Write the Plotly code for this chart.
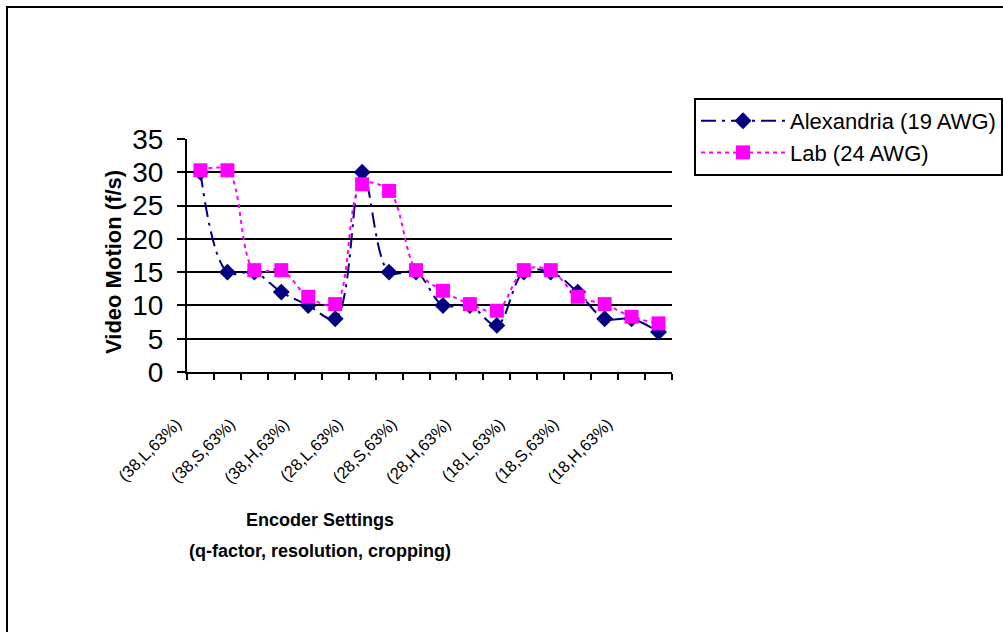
import plotly.graph_objects as go

# Encoder settings (every other setting is labelled on the axis)
tick_labels = ["(38,L,63%)", "(38,S,63%)", "(38,H,63%)",
               "(28,L,63%)", "(28,S,63%)", "(28,H,63%)",
               "(18,L,63%)", "(18,S,63%)", "(18,H,63%)"]
setting_index = list(range(18))
tick_positions = setting_index[::2]

# Video motion in frames per second
alexandria = [30, 15, 15, 12, 10, 8, 30, 15, 15, 10, 10, 7, 15, 15, 12, 8, 8, 6]
lab = [30.3, 30.3, 15.3, 15.3, 11.3, 10.2, 28.2, 27.2, 15.3,
       12.2, 10.2, 9.2, 15.3, 15.3, 11.3, 10.2, 8.3, 7.3]

y_ticks = [0, 5, 10, 15, 20, 25, 30, 35]

FONT = "Liberation Sans, Arial, sans-serif"
W, H = 1003, 632
L, R, T, B = 187, 672, 139, 372
pw, ph = R - L, B - T


def px(x):
    return (x - L) / pw


def py(y):
    return (B - y) / ph


fig = go.Figure()
fig.add_trace(go.Scatter(
    x=setting_index, y=alexandria, name="Alexandria (19 AWG)",
    mode="lines+markers", legendgroup="a",
    line=dict(color="#000080", width=2, dash="longdashdot", shape="spline", smoothing=1),
    marker=dict(symbol="diamond", size=13, color="#000080"),
))
fig.add_trace(go.Scatter(
    x=setting_index, y=lab, name="Lab (24 AWG)",
    mode="lines+markers", legendgroup="b",
    line=dict(color="#FF00FF", width=2, dash="4px,4px", shape="spline", smoothing=1),
    marker=dict(symbol="square", size=14, color="#FF00FF"),
))

fig.update_layout(
    width=W, height=H,
    margin=dict(l=L, r=W - R, t=T, b=H - B, pad=0, autoexpand=False),
    paper_bgcolor="white", plot_bgcolor="white",
    font=dict(family=FONT, color="black"),
    showlegend=True,
    legend=dict(
        x=px(694), y=py(98), xanchor="left", yanchor="top",
        bordercolor="black", borderwidth=2, bgcolor="white",
        font=dict(size=22, family=FONT, color="black"),
        itemwidth=84, tracegroupgap=0,
    ),
    xaxis=dict(
        range=[-0.5, 17.5], showgrid=False, zeroline=False,
        showline=True, linecolor="black", linewidth=2,
        tickmode="array", tickvals=tick_positions, ticktext=tick_labels,
        ticks="", tickangle=-45,
        tickfont=dict(size=16.5, family=FONT, color="black"),
        ticklabelshift=-24, ticklabelstandoff=34,
        minor=dict(tickmode="array", tickvals=[i - 0.5 for i in range(19)],
                   ticks="outside", ticklen=6, tickwidth=2, tickcolor="black",
                   showgrid=False),
    ),
    yaxis=dict(
        range=[0, 35], tickmode="array", tickvals=y_ticks,
        showgrid=True, gridcolor="black", gridwidth=2, zeroline=False,
        showline=True, linecolor="black", linewidth=2,
        ticks="outside", ticklen=8, tickwidth=2, tickcolor="black",
        tickfont=dict(size=28, family=FONT, color="black"),
        ticklabelstandoff=8,
    ),
    annotations=[
        dict(text="Video Motion (f/s)", textangle=-90, x=px(113), y=py(262),
             xref="paper", yref="paper", showarrow=False,
             xanchor="center", yanchor="middle",
             font=dict(size=22, family=FONT, weight="bold", color="black")),
        dict(text="Encoder Settings", x=px(320), y=py(520),
             xref="paper", yref="paper", showarrow=False,
             xanchor="center", yanchor="middle",
             font=dict(size=18, family=FONT, weight="bold", color="black")),
        dict(text="(q-factor, resolution, cropping)", x=px(320), y=py(551),
             xref="paper", yref="paper", showarrow=False,
             xanchor="center", yanchor="middle",
             font=dict(size=18, family=FONT, weight="bold", color="black")),
    ],
    shapes=[
        dict(type="rect", xref="paper", yref="paper",
             x0=px(7), x1=px(1020), y0=py(650), y1=py(7),
             line=dict(color="black", width=2), fillcolor="rgba(0,0,0,0)",
             layer="below"),
    ],
)

fig.write_html("out.html")
